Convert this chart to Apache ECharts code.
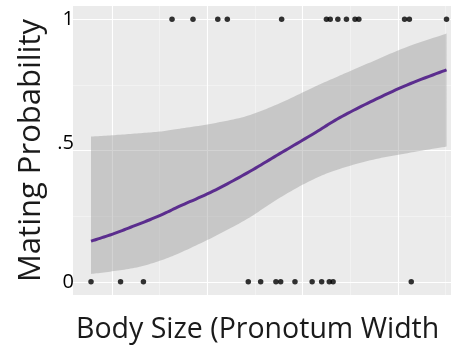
<!DOCTYPE html>
<html><head><meta charset="utf-8">
<script src="https://cdn.jsdelivr.net/npm/echarts@6/dist/echarts.min.js"></script>
<style>html,body{margin:0;padding:0;background:#fff}#c{width:451px;height:348px}</style>
</head><body><div id="c"></div>
<script>
// Fitted logistic curve and its confidence band
const fitX    = [2.78, 3.0, 3.26, 3.5, 3.71, 4.06, 4.42, 4.76, 5.11, 5.39, 5.74, 6.10, 6.51];
const fitY    = [0.155, 0.181, 0.217, 0.252, 0.288, 0.345, 0.415, 0.488, 0.563, 0.625, 0.69, 0.75, 0.807];
const ciLower = [0.03, 0.04, 0.055, 0.08, 0.11, 0.17, 0.24, 0.32, 0.39, 0.43, 0.465, 0.49, 0.515];
const ciUpper = [0.553, 0.558, 0.565, 0.572, 0.583, 0.603, 0.632, 0.68, 0.74, 0.785, 0.84, 0.895, 0.945];
// Observations: mated (y=1) and not mated (y=0)
const matedX   = [3.63, 3.85, 4.11, 4.21, 4.78, 5.25, 5.29, 5.37, 5.46, 5.55, 5.59, 6.07, 6.12, 6.51];
const unmatedX = [2.78, 3.09, 3.33, 4.43, 4.56, 4.72, 4.77, 4.92, 5.10, 5.20, 5.28, 5.32, 6.14];
// Axis ticks
const yTicks = [0, 0.5, 1];
const yTickLabels = ['0', '.5', '1'];
const yMinor = [0.25, 0.75];
const xMajor = [3, 4, 5, 6];
const xMinor = [3.5, 4.5, 5.5, 6.5];

const FONT = '"Open Sans", "Noto Sans", sans-serif';
const chart = echarts.init(document.getElementById('c'), null, {renderer: 'canvas'});

// Catmull-Rom smoothing of pixel points (rendering only)
function smoothPts(pts, seg) {
  const out = [];
  const n = pts.length;
  for (let i = 0; i < n - 1; i++) {
    const p0 = pts[Math.max(i - 1, 0)], p1 = pts[i], p2 = pts[i + 1], p3 = pts[Math.min(i + 2, n - 1)];
    for (let t = 0; t < seg; t++) {
      const s = t / seg, s2 = s * s, s3 = s2 * s;
      const f = k => 0.5 * (2 * p1[k] + (-p0[k] + p2[k]) * s + (2 * p0[k] - 5 * p1[k] + 4 * p2[k] - p3[k]) * s2 + (-p0[k] + 3 * p1[k] - 3 * p2[k] + p3[k]) * s3);
      out.push([f(0), f(1)]);
    }
  }
  out.push(pts[n - 1]);
  return out;
}

const gridLines = [].concat(
  yMinor.map(v => ({yAxis: v, lineStyle: {color: '#f5f5f5', width: 0.7, type: 'solid'}})),
  xMinor.map(v => ({xAxis: v, lineStyle: {color: '#f5f5f5', width: 0.7, type: 'solid'}})),
  yTicks.map(v => ({yAxis: v, lineStyle: {color: '#ffffff', width: 1.1, type: 'solid'}})),
  xMajor.map(v => ({xAxis: v, lineStyle: {color: '#ffffff', width: 1.1, type: 'solid'}}))
);

chart.setOption({
  animation: false,
  title: {
    text: 'Body Size (Pronotum Width',
    left: 71, top: 310,
    textStyle: {fontFamily: FONT, fontSize: 28.5, fontWeight: 'normal', color: '#1a1a1a'}
  },
  grid: {left: 73, right: 0, top: 6, bottom: 53, show: true, backgroundColor: '#ebebeb', borderWidth: 0},
  xAxis: {
    type: 'value', min: 2.591, max: 6.557,
    axisLine: {show: false},
    axisTick: {show: true, customValues: xMajor, length: 3, lineStyle: {color: '#9a9a9a'}},
    axisLabel: {show: false},
    splitLine: {show: false}
  },
  yAxis: {
    type: 'value', min: -0.05, max: 1.05,
    name: 'Mating Probability', nameLocation: 'middle', nameRotate: 90, nameGap: 22,
    nameTextStyle: {fontFamily: FONT, fontSize: 31, color: '#1a1a1a'},
    axisLine: {show: false},
    axisTick: {show: false},
    splitLine: {show: false},
    axisLabel: {
      customValues: yTicks,
      formatter: v => { const i = yTicks.indexOf(v); if (i < 0) return ''; return v === 0.5 ? '{h|' + yTickLabels[i] + '}' : yTickLabels[i]; },
      rich: {h: {color: '#000', fontSize: 20, fontFamily: FONT, padding: [0, 0, 14, 0]}},
      color: '#000', fontSize: 20, fontFamily: FONT, margin: -1
    }
  },
  series: [
    {
      type: 'line', data: [], z: 0, silent: true,
      markLine: {z: 0.5, silent: true, symbol: ['none', 'none'], label: {show: false}, animation: false, data: gridLines}
    },
    {
      type: 'custom', z: 1, silent: true,
      data: [[fitX[0], ciLower[0]]],
      renderItem: (params, api) => {
        if (params.dataIndex !== 0) return null;
        const up = fitX.map((x, i) => api.coord([x, ciUpper[i]]));
        const lo = fitX.map((x, i) => api.coord([x, ciLower[i]]));
        const pts = smoothPts(up, 12).concat(smoothPts(lo, 12).reverse());
        return {type: 'polygon', shape: {points: pts}, style: {fill: 'rgba(150,150,150,0.42)'}};
      }
    },
    {
      type: 'custom', z: 3, silent: true,
      data: [[fitX[0], fitY[0]]],
      renderItem: (params, api) => {
        if (params.dataIndex !== 0) return null;
        const pts = smoothPts(fitX.map((x, i) => api.coord([x, fitY[i]])), 12);
        return {type: 'polyline', shape: {points: pts}, style: {stroke: '#5b2d8e', lineWidth: 3, fill: null, lineJoin: 'round'}};
      }
    },
    {
      type: 'scatter', symbolSize: 5.5, z: 4,
      itemStyle: {color: '#000'},
      data: matedX.map(x => [x, 1]).concat(unmatedX.map(x => [x, 0]))
    }
  ]
});
</script>
</body></html>
